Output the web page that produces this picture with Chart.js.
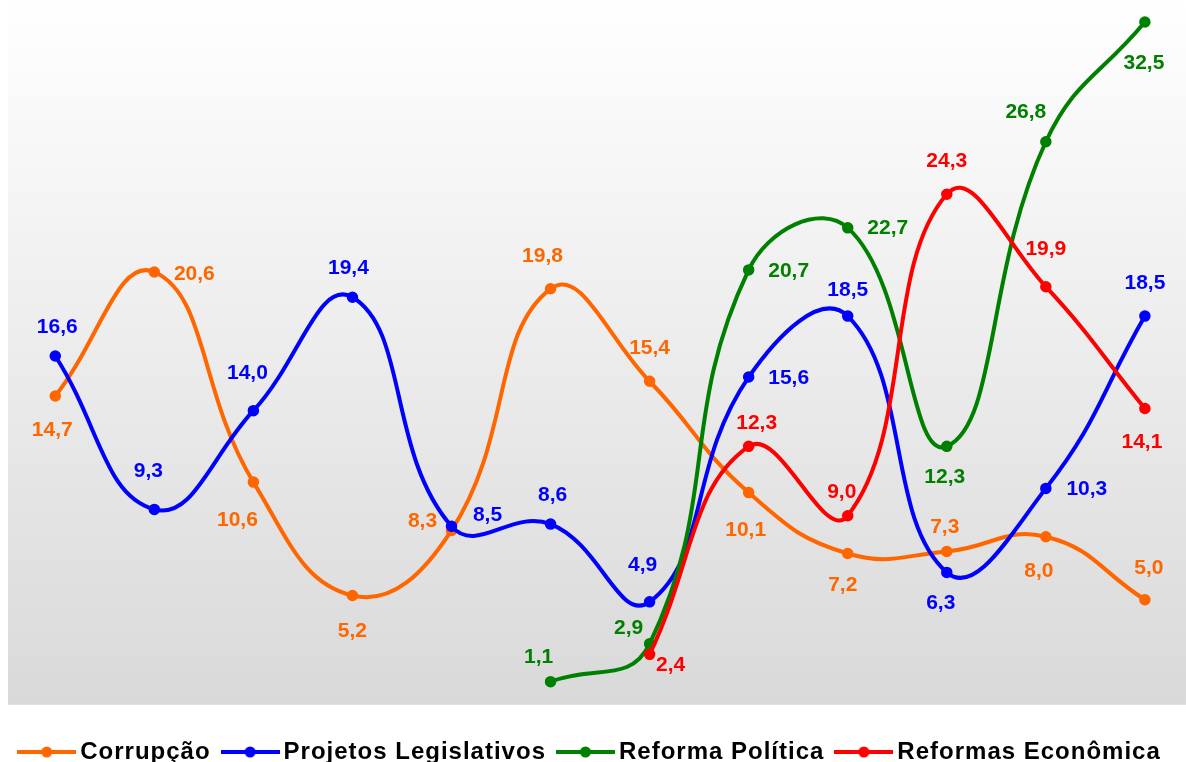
<!DOCTYPE html>
<html>
<head>
<meta charset="utf-8">
<script src="https://cdn.jsdelivr.net/npm/chart.js@4"></script>
<style>
    html, body { margin: 0; padding: 0; background: #ffffff; }
    #chart_pane { display: block; }
</style>
</head>
<body>
<canvas id="chart_pane" width="1186" height="762"></canvas>
<script>
// values, one per period (null = no value yet)
const periods = [0, 1, 2, 3, 4, 5, 6, 7, 8, 9, 10, 11]
const seriesNames = ['Corrupção', 'Projetos Legislativos', 'Reforma Política', 'Reformas Econômica']
const corrupcao = [14.7, 20.6, 10.6, 5.2, 8.3, 19.8, 15.4, 10.1, 7.2, 7.3, 8.0, 5.0]
const projetosLegislativos = [16.6, 9.3, 14.0, 19.4, 8.5, 8.6, 4.9, 15.6, 18.5, 6.3, 10.3, 18.5]
const reformaPolitica = [null, null, null, null, null, 1.1, 2.9, 20.7, 22.7, 12.3, 26.8, 32.5]
const reformasEconomica = [null, null, null, null, null, null, 2.4, 12.3, 9.0, 24.3, 19.9, 14.1]

// styling
const seriesColors = ['#FF6600', '#0000FF', '#008000', '#FF0000']
const labelFont = 'bold 21px "Liberation Sans", Arial, sans-serif'

// where each value label sits relative to its point [dx, dy]
const labelOffsets = [
    [[-3, 34], [40, 2], [-16, 38], [0, 36], [-29, -9], [-8, -33], [0, -33], [-3, 38], [-5, 32], [-2, -24], [-7, 34], [4, -32]],
    [[2, -29], [-6, -38], [-6, -37], [-4, -29], [36, -11], [2, -29], [-7, -37], [40, 1], [0, -26], [-6, 31], [41, 1], [0, -33]],
    [null, null, null, null, null, [-12, -24], [-21, -16], [40, 1], [40, 0], [-2, 31], [-20, -30], [-1, 41]],
    [null, null, null, null, null, null, [21, 11], [8, -23], [-6, -24], [0, -33], [0, -37], [-3, 34]]
]

const toPoints = (values) => values.map((v, i) => ({ x: periods[i], y: v }))

const legendMarker = (color) => {
    let c = document.createElement('canvas')
    c.width = 59
    c.height = 12
    let g = c.getContext('2d')
    g.strokeStyle = color
    g.lineWidth = 4
    g.beginPath()
    g.moveTo(0, 6)
    g.lineTo(59, 6)
    g.stroke()
    g.fillStyle = color
    g.beginPath()
    g.arc(29.5, 6, 5.5, 0, Math.PI * 2)
    g.fill()
    return c
}
const markers = seriesColors.map(legendMarker)

const legendSpacing = {
    id: 'legendSpacing',
    beforeUpdate(chart) { chart.ctx.letterSpacing = '1px' },
    beforeDraw(chart) { chart.ctx.letterSpacing = '1px' }
}

const plotBackground = {
    id: 'plotBackground',
    beforeDatasetsDraw(chart) {
        const { ctx, chartArea, scales } = chart
        const bottom = scales.y.getPixelForValue(0)
        let grad = ctx.createLinearGradient(0, chartArea.top, 0, bottom)
        grad.addColorStop(0, '#ffffff')
        grad.addColorStop(1, '#d9d9d9')
        ctx.save()
        ctx.fillStyle = grad
        ctx.fillRect(8, chartArea.top, chartArea.right - 8, bottom - chartArea.top)
        ctx.restore()
    }
}

const valueLabels = {
    id: 'valueLabels',
    afterDatasetsDraw(chart) {
        const ctx = chart.ctx
        ctx.save()
        ctx.letterSpacing = '0px'
        ctx.font = labelFont
        ctx.textAlign = 'center'
        ctx.textBaseline = 'middle'
        chart.data.datasets.forEach((ds, d) => {
            const meta = chart.getDatasetMeta(d)
            meta.data.forEach((pt, i) => {
                const v = ds.data[i].y
                const off = labelOffsets[d][i]
                if (v === null || !off) return
                ctx.fillStyle = seriesColors[d]
                ctx.fillText(v.toFixed(1).replace('.', ','), pt.x + off[0], pt.y + off[1])
            })
        })
        ctx.restore()
    }
}

const allSeries = [corrupcao, projetosLegislativos, reformaPolitica, reformasEconomica]
let compiled_data = []
for (let count = 0; count < allSeries.length; count++) {
    compiled_data.push({
        label: seriesNames[count],
        data: toPoints(allSeries[count]),
        borderColor: seriesColors[count],
        backgroundColor: seriesColors[count],
        pointBackgroundColor: seriesColors[count],
        pointBorderColor: seriesColors[count],
        borderWidth: 4,
        pointRadius: 5,
        pointBorderWidth: 1.5,
        tension: 0.45,
        fill: false,
        clip: false,
        order: allSeries.length - count
    })
}

let ctx = document.getElementById('chart_pane').getContext('2d')
var dataChart = new Chart(ctx, {
    type: 'line',
    data: { datasets: compiled_data },
    options: {
        responsive: false,
        animation: false,
        layout: { autoPadding: false, padding: { top: 0, left: 0, right: 0, bottom: -12 } },
        scales: {
            x: { type: 'linear', min: -0.558, max: 11.415, display: false },
            y: { min: -0.819, max: 33.546, display: false }
        },
        plugins: {
            tooltip: { enabled: false },
            legend: {
                position: 'bottom',
                labels: {
                    usePointStyle: true,
                    pointStyleWidth: 43,
                    padding: 18,
                    color: '#000000',
                    font: { family: '"Liberation Sans", Arial, sans-serif', size: 24, weight: 'bold' },
                    sort: (a, b) => a.datasetIndex - b.datasetIndex,
                    generateLabels: (chart) => {
                        let items = Chart.defaults.plugins.legend.labels.generateLabels(chart)
                        items.forEach((item) => { item.pointStyle = markers[item.datasetIndex] })
                        return items
                    }
                }
            }
        }
    },
    plugins: [legendSpacing, plotBackground, valueLabels]
})
</script>
</body>
</html>
